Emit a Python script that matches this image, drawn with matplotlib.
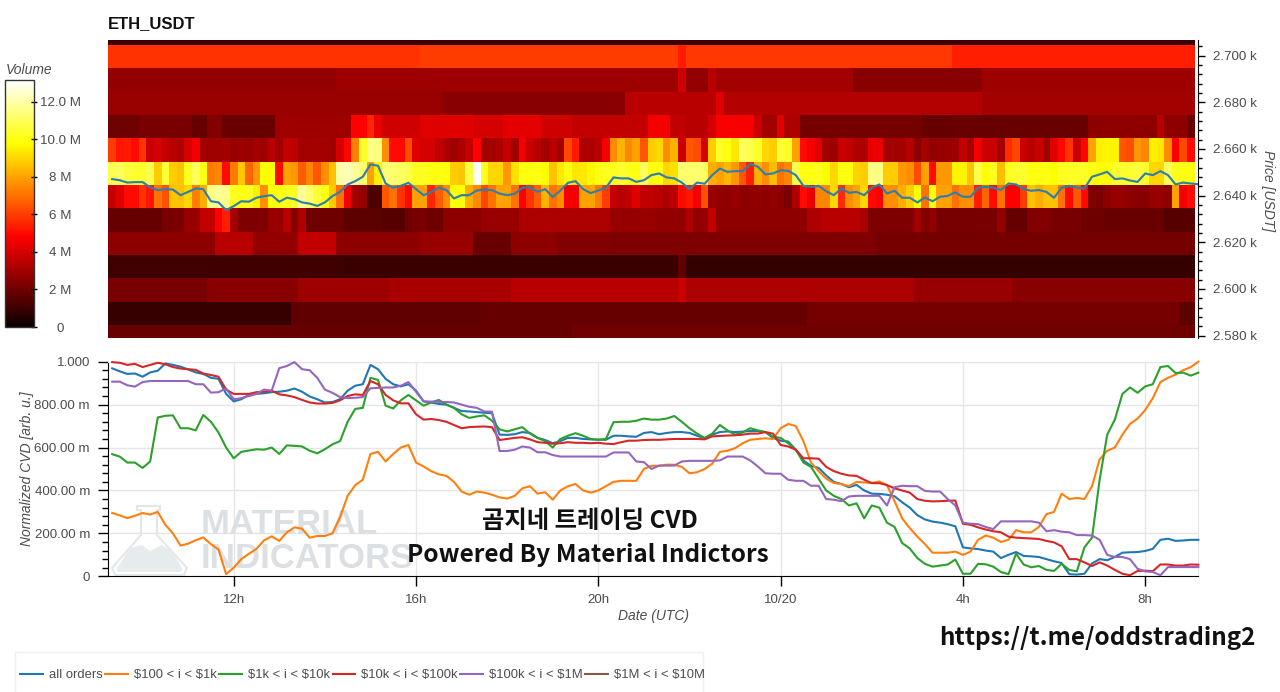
"""ETH_USDT volume heatmap and normalized CVD by order size."""
import matplotlib
matplotlib.use('Agg')
import matplotlib.dates as mdates
import matplotlib.pyplot as plt
import numpy as np
import pandas as pd
from matplotlib.lines import Line2D
from matplotlib.patches import Polygon, Rectangle
from matplotlib.ticker import FixedLocator, FuncFormatter
from matplotlib.transforms import Affine2D

# heatmap volume in millions, one list per 10 USDT price bin, 10 minute cells
vol_2704 = [1.0] * 143
vol_2694 = [5.8] * 41 + [6.0] * 34 + [5.3] + [5.9] * 35 + [5.4] * 32
vol_2684 = [2.7] * 30 + [2.9] * 45 + [3.9] + [2.7] * 3 + [3.4] + [3.0] * 18 + [2.5] * 17 + [2.9] * 28
vol_2674 = [2.8] * 44 + [2.5] * 24 + [3.4] * 12 + [4.2] + [3.3] * 34 + [3.0] * 28
vol_2664 = ([2.0] * 4 + [2.2] * 7 + [1.8] * 2 + [2.4] * 2 + [1.9] * 7 + [2.9] * 10 + [4.8] * 2 + [5.5, 4.4]
            + [3.9] * 5 + [4.2] * 7 + [4.0] * 4 + [4.3] * 5 + [3.9] * 4 + [3.6] * 6 + [3.6] * 4 + [4.6]
            + [4.6] * 2 + [3.6] * 2 + [3.4] * 3 + [4.0] + [4.7] * 5 + [3.8] + [3.0] * 2 + [4.2] + [3.2] * 2
            + [2.1] * 16 + [1.8] * 4 + [1.9] * 18 + [2.6] * 9 + [3.4] + [2.6] * 3 + [1.9])
vol_2654 = [6.0, 5.2, 5.3, 5.0, 5.8, 3.8, 4.0, 3.6, 3.4, 3.2, 4.0, 4.6, 3.0, 2.9, 2.9, 3.0, 2.8, 2.9,
            2.8, 3.0, 2.9, 3.4, 3.0, 3.6, 3.5, 3.0, 3.0, 3.0, 3.0, 2.9, 4.0, 4.9, 7.3, 10.3, 11.5, 11.5,
            7.6, 5.0, 5.0, 6.3, 4.2, 4.0, 4.0, 3.6, 3.2, 2.9, 3.2, 3.6, 4.8, 3.0, 3.0, 3.2, 3.6, 3.0,
            4.6, 3.8, 3.4, 3.0, 3.4, 3.0, 6.2, 5.3, 3.2, 3.2, 3.4, 4.6, 7.5, 8.3, 7.4, 8.0, 6.5, 8.8,
            9.0, 7.5, 8.3, 3.8, 6.5, 6.3, 4.0, 8.8, 10.3, 10.0, 9.3, 11.0, 10.8, 10.3, 9.0, 8.8, 10.5, 10.3,
            8.0, 5.0, 4.7, 4.2, 3.0, 2.9, 3.8, 3.6, 3.2, 3.2, 4.4, 4.4, 3.0, 3.0, 3.0, 3.4, 2.5, 3.0,
            2.7, 2.8, 2.8, 2.9, 3.6, 3.0, 4.6, 3.8, 3.8, 3.0, 5.6, 6.2, 3.8, 3.4, 3.8, 2.9, 4.2, 4.9,
            5.8, 3.8, 4.9, 8.0, 9.5, 9.6, 9.6, 6.5, 6.3, 7.8, 7.4, 9.5, 9.3, 7.5, 4.8, 6.2, 5.0]
vol_2644 = [10.8, 11.0, 10.6, 10.4, 10.4, 10.8, 8.8, 10.5, 8.8, 8.6, 10.2, 11.0, 10.0, 7.2, 7.4, 5.0, 7.2, 8.7,
            6.8, 7.8, 9.8, 9.8, 5.0, 8.0, 7.8, 6.6, 7.4, 6.5, 7.6, 8.6, 12.0, 12.2, 11.8, 11.2, 8.0, 9.5,
            11.3, 11.2, 11.0, 10.8, 10.2, 10.2, 10.0, 10.0, 9.9, 8.8, 8.7, 10.6, 13.0, 10.2, 9.0, 9.0, 7.8, 9.2,
            10.0, 10.0, 10.0, 9.8, 8.6, 9.4, 10.0, 9.3, 9.4, 9.7, 10.0, 10.2, 10.2, 10.4, 10.2, 10.0, 11.0, 10.0,
            10.0, 9.0, 9.2, 11.2, 11.2, 11.2, 11.0, 8.2, 8.0, 8.4, 7.8, 6.5, 5.4, 8.2, 7.6, 8.5, 7.0, 7.4,
            10.8, 10.0, 10.0, 10.2, 9.8, 9.0, 10.0, 10.0, 8.9, 8.8, 11.5, 11.5, 8.8, 8.8, 7.8, 7.6, 6.3, 8.0,
            5.0, 7.8, 7.8, 9.6, 9.6, 8.6, 10.8, 9.8, 10.2, 8.5, 10.2, 10.4, 10.4, 10.0, 10.0, 10.0, 9.8, 10.2,
            10.3, 10.3, 10.3, 10.0, 9.8, 9.8, 10.4, 10.4, 10.4, 10.6, 10.4, 9.0, 9.0, 11.0, 10.2, 10.0, 10.0]
vol_2634 = [3.6, 4.2, 5.0, 5.0, 5.8, 5.2, 7.0, 6.4, 8.6, 8.6, 9.0, 7.3, 8.2, 11.5, 11.8, 11.6, 10.2, 10.0,
            10.2, 9.5, 7.6, 9.9, 10.0, 10.1, 10.3, 11.8, 11.2, 10.5, 10.0, 8.8, 7.0, 4.6, 3.0, 2.7, 1.3, 1.3,
            6.5, 7.0, 5.8, 5.0, 8.0, 8.0, 5.5, 6.6, 7.5, 9.9, 9.9, 8.2, 7.5, 6.2, 7.0, 8.0, 8.0, 7.0,
            4.8, 5.8, 6.6, 8.3, 7.0, 7.5, 4.6, 4.6, 8.0, 8.0, 7.2, 6.0, 3.6, 3.4, 3.6, 4.2, 3.6, 3.5,
            3.4, 3.2, 3.4, 5.0, 5.2, 4.6, 6.4, 2.8, 2.7, 2.6, 2.8, 2.6, 2.6, 2.7, 2.6, 2.7, 2.6, 2.2,
            3.2, 5.0, 4.4, 7.4, 7.4, 9.0, 5.6, 7.6, 8.0, 9.0, 5.0, 4.8, 7.6, 7.6, 8.2, 8.8, 9.8, 7.0,
            10.0, 8.0, 8.0, 7.0, 7.6, 7.6, 5.4, 6.8, 5.0, 7.0, 4.8, 4.8, 6.0, 8.6, 8.2, 8.6, 8.6, 7.0,
            5.0, 6.5, 5.0, 2.4, 2.2, 2.6, 2.8, 2.8, 2.6, 2.5, 2.5, 2.8, 2.8, 2.6, 8.0, 4.6, 5.0]
vol_2624 = ([1.8] * 7 + [2.2] * 3 + [2.8] * 2 + [3.6] * 2 + [4.8, 5.4, 3.0] + [2.3] * 4 + [2.8] * 2 + [3.4, 2.4, 3.2]
            + [2.0] * 5 + [1.6] * 5 + [1.5] * 3 + [2.0] + [2.2] * 2 + [2.0] * 2 + [2.6] * 5 + [2.8] * 5 + [3.2] * 12
            + [2.8] * 6 + [2.7] * 4 + [3.2] + [2.7] * 2 + [3.6] + [2.6] * 12 + [3.2] * 2 + [3.4] * 5 + [3.1]
            + [2.3] * 6 + [3.0, 2.4, 2.7] + [2.2] * 8 + [2.8] + [1.8] * 3 + [2.4] * 3 + [2.2] * 4 + [2.0] * 3
            + [1.9] * 8 + [1.5] * 4)
vol_2614 = ([2.6] * 14 + [3.4] * 5 + [2.7] * 6 + [3.6] * 5 + [2.6] * 11 + [2.8] * 7 + [1.9] * 5 + [2.6] * 6
            + [2.4] * 7 + [2.3] * 35 + [2.1] * 42)
vol_2604 = [1.05] * 31 + [0.95] * 44 + [1.7] + [0.85] * 67
vol_2594 = ([2.2] * 13 + [2.5] * 12 + [2.9] * 12 + [3.1] * 16 + [3.4] * 22 + [3.8] + [3.2] * 30 + [2.8] * 13
            + [2.5] * 24)
vol_2584 = [0.9] * 24 + [1.7] * 25 + [1.8] * 43 + [2.1] * 49 + [1.6] * 2
vol_2574 = [1.8] * 61 + [2.0] * 82

price = [2647.1, 2646.6, 2645.6, 2645.8, 2645.8, 2643.6, 2642.4, 2642.8, 2642.6, 2640.2, 2641.6, 2643.1,
         2642.8, 2637.6, 2637.1, 2633.8, 2635.5, 2637.6, 2637.4, 2639.1, 2639.8, 2640.2, 2637.4, 2639.1,
         2638.5, 2637.1, 2636.6, 2635.6, 2637.1, 2639.8, 2641.6, 2644.8, 2646.2, 2648.1, 2653.4, 2652.8,
         2645.2, 2643.4, 2644.2, 2645.5, 2642.8, 2640.2, 2641.6, 2643.4, 2642.4, 2638.8, 2640.2, 2640.2,
         2642.2, 2642.6, 2642.4, 2640.9, 2640.2, 2640.8, 2643.4, 2643.6, 2641.6, 2642.8, 2639.4, 2642.2,
         2645.5, 2646.2, 2642.8, 2641.1, 2642.2, 2643.4, 2647.8, 2647.4, 2647.4, 2645.9, 2646.6, 2648.8,
         2649.5, 2647.8, 2647.4, 2645.6, 2642.8, 2645.6, 2645.1, 2648.8, 2651.6, 2650.2, 2650.5, 2650.5,
         2653.5, 2652.4, 2649.1, 2649.5, 2650.9, 2650.6, 2648.8, 2644.2, 2643.8, 2644.2, 2641.9, 2640.2,
         2643.1, 2641.2, 2641.6, 2640.2, 2643.4, 2644.8, 2640.9, 2642.1, 2639.1, 2639.1, 2637.1, 2639.2,
         2637.6, 2639.5, 2639.9, 2641.4, 2639.5, 2639.5, 2643.4, 2643.8, 2643.4, 2642.4, 2645.2, 2644.8,
         2642.8, 2642.1, 2642.4, 2641.6, 2639.1, 2643.4, 2644.2, 2643.4, 2643.1, 2648.1, 2649.1, 2650.2,
         2647.1, 2647.4, 2646.5, 2645.9, 2649.5, 2648.8, 2650.5, 2648.8, 2644.8, 2645.6, 2645.2, 2644.9]

# normalized CVD by order size
cvd_all = [.969, .955, .943, .945, .93, .95, .958, .992, .985, .977, .964, .95, .943, .925, .92, .85, .815, .825,
           .845, .85, .853, .858, .86, .865, .875, .86, .838, .825, .81, .812, .825, .865, .888, .895, .985, .965,
           .92, .895, .885, .895, .865, .815, .81, .803, .80, .785, .77, .768, .765, .762, .76, .66, .659, .662,
           .672, .668, .645, .635, .62, .63, .645, .645, .64, .638, .637, .636, .655, .655, .652, .65, .668, .672,
           .662, .668, .672, .672, .668, .655, .643, .66, .672, .675, .672, .674, .677, .677, .672, .645, .632, .628,
           .59, .54, .515, .505, .47, .44, .43, .415, .426, .40, .385, .384, .38, .373, .345, .32, .285, .265,
           .255, .25, .243, .233, .135, .13, .127, .12, .115, .085, .10, .113, .095, .093, .09, .08, .07, .062,
           .01, .008, .012, .06, .08, .075, .09, .11, .112, .113, .118, .128, .17, .175, .165, .167, .17, .17]
cvd_100_1k = [.295, .284, .271, .282, .295, .288, .30, .24, .20, .143, .152, .168, .181, .15, .125, .01, .04, .08,
              .105, .128, .168, .186, .165, .205, .228, .222, .18, .188, .188, .20, .275, .375, .425, .45, .57, .58,
              .535, .57, .60, .612, .53, .512, .49, .475, .468, .44, .395, .38, .395, .39, .38, .368, .362, .375,
              .41, .42, .385, .392, .357, .40, .42, .43, .40, .39, .40, .42, .44, .445, .445, .445, .50, .515,
              .515, .52, .52, .51, .48, .485, .50, .525, .58, .585, .597, .62, .636, .64, .643, .64, .69, .71,
              .70, .63, .53, .49, .455, .435, .43, .42, .44, .437, .435, .442, .425, .35, .27, .225, .185, .15,
              .11, .11, .11, .115, .10, .115, .17, .19, .18, .16, .17, .215, .205, .205, .23, .29, .30, .385,
              .36, .365, .36, .42, .545, .585, .60, .66, .71, .735, .775, .83, .905, .925, .94, .96, .975, 1.0]
cvd_1k_10k = [.569, .558, .53, .53, .505, .535, .74, .748, .75, .69, .69, .68, .752, .72, .67, .60, .55, .58,
              .586, .592, .59, .60, .57, .61, .608, .605, .585, .573, .592, .615, .63, .72, .78, .785, .925, .915,
              .795, .782, .82, .845, .82, .795, .81, .822, .80, .785, .755, .738, .745, .75, .725, .685, .675, .685,
              .695, .665, .645, .63, .60, .64, .655, .667, .655, .64, .636, .64, .718, .72, .72, .725, .735, .73,
              .73, .735, .747, .72, .69, .665, .645, .665, .705, .68, .66, .67, .69, .68, .672, .65, .645, .62,
              .59, .53, .51, .455, .40, .375, .36, .33, .34, .27, .33, .32, .25, .23, .155, .13, .085, .058,
              .045, .05, .055, .078, .012, .012, .058, .056, .045, .02, .01, .105, .055, .042, .048, .03, .025, .058,
              .03, .023, .135, .18, .45, .66, .73, .85, .88, .855, .885, .895, .975, .98, .947, .949, .935, .949]
cvd_10k_100k = [.998, .995, .985, .99, .975, .985, .995, .988, .975, .968, .965, .962, .945, .938, .93, .87, .85, .85,
                .85, .858, .86, .865, .848, .843, .835, .822, .81, .805, .805, .808, .82, .84, .848, .845, .91, .895,
                .845, .82, .806, .806, .755, .73, .733, .728, .72, .705, .69, .695, .697, .698, .695, .635, .64, .645,
                .648, .638, .625, .622, .618, .62, .625, .622, .622, .62, .622, .618, .616, .625, .632, .632, .635, .636,
                .636, .638, .64, .64, .64, .64, .638, .652, .654, .656, .657, .66, .665, .665, .672, .665, .612, .605,
                .59, .55, .55, .548, .51, .49, .478, .47, .468, .45, .434, .434, .425, .41, .40, .39, .36, .352,
                .349, .35, .352, .353, .245, .24, .228, .218, .21, .205, .185, .18, .178, .176, .174, .165, .158, .14,
                .08, .08, .065, .048, .065, .05, .03, .012, .005, .025, .026, .024, .055, .055, .05, .05, .055, .054]
cvd_100k_1m = [.907, .907, .89, .884, .905, .91, .91, .91, .91, .91, .91, .895, .895, .856, .858, .875, .825, .83,
               .84, .85, .87, .865, .97, .98, .998, .965, .96, .925, .87, .855, .835, .83, .832, .835, .876, .878,
               .88, .88, .888, .905, .86, .815, .814, .813, .812, .81, .80, .79, .785, .768, .767, .584, .584, .59,
               .605, .60, .578, .578, .565, .558, .558, .558, .558, .558, .558, .558, .577, .577, .577, .535, .532, .50,
               .516, .516, .516, .535, .538, .538, .538, .538, .54, .558, .558, .558, .54, .512, .48, .478, .478, .45,
               .445, .445, .422, .422, .36, .357, .35, .372, .375, .375, .375, .375, .33, .415, .422, .42, .42, .398,
               .395, .395, .36, .33, .25, .245, .243, .23, .22, .256, .256, .256, .256, .256, .25, .21, .215, .208,
               .205, .192, .192, .19, .17, .10, .09, .09, .08, .035, .023, .02, .005, .043, .043, .043, .043, .043]

legend_labels = ['all orders', '$100 < i < $1k', '$1k < i < $10k', '$10k < i < $100k',
                 '$100k < i < $1M', '$1M < i < $10M']
legend_colors = ['#1f77b4', '#ff7f0e', '#2ca02c', '#d62728', '#9467bd', '#8c564b']

volume_rows = [vol_2574, vol_2584, vol_2594, vol_2604, vol_2614, vol_2624, vol_2634,
               vol_2644, vol_2654, vol_2664, vol_2674, vol_2684, vol_2694, vol_2704]
price_edges = 2574.6 + 10 * np.arange(len(volume_rows) + 1)
cell_edges = mdates.date2num(pd.date_range('2024-10-19 09:15', periods=144, freq='10min'))
times = mdates.date2num(pd.date_range('2024-10-19 09:20', periods=144, freq='10min'))
x_range = mdates.date2num(pd.to_datetime(['2024-10-19 09:14:30', '2024-10-20 09:09:30']))
x_ticks = mdates.date2num(pd.to_datetime(['2024-10-19 12:00', '2024-10-19 16:00', '2024-10-19 20:00',
                                          '2024-10-20 00:00', '2024-10-20 04:00', '2024-10-20 08:00']))
x_labels = ['12h', '16h', '20h', '10/20', '4h', '8h']

W, H = 1280, 692
GRAY = '#4d4d4d'
plt.rcParams['font.family'] = ['Liberation Sans', 'DejaVu Sans']
plt.rcParams['mathtext.fontset'] = 'dejavusans'
plt.rcParams['text.parse_math'] = False

fig = plt.figure(figsize=(W / 100, H / 100), dpi=100)
px = Affine2D().scale(1, -1).translate(0, H)  # picture pixels, origin top left


def box(left, top, right, bottom):
    return [left / W, 1 - bottom / H, (right - left) / W, (bottom - top) / H]


def ftext(x, y, s, **kw):
    kw.setdefault('ha', 'center')
    kw.setdefault('va', 'center')
    return fig.text(x / W, 1 - y / H, s, **kw)


# --- heatmap ---
ax_heat = fig.add_axes(box(108, 40, 1198, 338))
mesh = ax_heat.pcolormesh(cell_edges, price_edges, np.array(volume_rows), cmap='hot',
                          vmin=0, vmax=13.15, shading='flat', linewidth=0, rasterized=True)
ax_heat.plot(times, price, color='#2f7fae', lw=1.55, solid_joinstyle='round')
ax_heat.set_xlim(x_range)
ax_heat.set_ylim(2579.0, 2706.7)
ax_heat.set_xticks([])
ax_heat.yaxis.tick_right()
ax_heat.yaxis.set_major_locator(FixedLocator(np.arange(2580, 2701, 20)))
ax_heat.yaxis.set_minor_locator(FixedLocator(np.arange(2580, 2705, 4)))
ax_heat.yaxis.set_major_formatter(FuncFormatter(lambda v, _: f'{v / 1000:.3f} k'))
ax_heat.tick_params(axis='y', which='major', length=5, width=1, direction='out', labelsize=9.6,
                    labelcolor=GRAY, pad=6)
ax_heat.tick_params(axis='y', which='minor', length=3, width=1, direction='out')
for side in ['left', 'top', 'bottom']:
    ax_heat.spines[side].set_visible(False)
ftext(1268, 191, 'Price [USDT]', rotation=-90, style='italic', color=GRAY, fontsize=10)
ftext(108, 24, 'ETH_USDT', ha='left', weight='bold', color='#111111', fontsize=12)

# --- colorbar ---
ax_bar = fig.add_axes(box(5, 80, 34, 327))
cbar = fig.colorbar(mesh, cax=ax_bar)
cbar.set_ticks([0, 2, 4, 6, 8, 10, 12], labels=['0', '2 M', '4 M', '6 M', '8 M', '10.0 M', '12.0 M'])
cbar.ax.tick_params(length=4, width=1, direction='inout', labelsize=9.6, labelcolor=GRAY, pad=17)
for label in cbar.ax.get_yticklabels():
    label.set_ha('center')
cbar.outline.set_edgecolor('#333333')
cbar.outline.set_linewidth(1)
ftext(6, 70, 'Volume', ha='left', style='italic', color=GRAY, fontsize=10)

# --- CVD ---
ax_cvd = fig.add_axes(box(108, 361.7, 1198, 576.3))
ax_cvd.set_axisbelow(True)
ax_cvd.grid(True, which='major', color='#e6e6e6', lw=1)

# watermark sits under the lines
flask = Polygon([(137, 506), (160, 506), (160, 510), (157, 510), (157, 535), (187, 568), (184, 575),
                 (115, 575), (112, 568), (141, 535), (141, 510), (137, 510)], closed=True,
                fc='white', ec='#e4e7e8', lw=1.5, transform=px, zorder=0.5, clip_on=False)
liquid = Polygon([(116, 570), (130, 548), (142, 545), (150, 551), (162, 545), (172, 551), (183, 570),
                  (180, 572), (119, 572)], closed=True, fc='#e6ecee', ec='none', transform=px,
                 zorder=0.6, clip_on=False)
ax_cvd.add_patch(flask)
ax_cvd.add_patch(liquid)
ax_cvd.text(201, 524, 'MATERIAL', transform=px, family=['Liberation Sans Narrow', 'Liberation Sans'], weight='bold',
            fontsize=25, color='#dce0e3', ha='left', va='center', zorder=0.7)
ax_cvd.text(201, 559, 'INDICATORS', transform=px, family=['Liberation Sans Narrow', 'Liberation Sans'], weight='bold',
            fontsize=25, color='#dce0e3', ha='left', va='center', zorder=0.7)

series = [cvd_all, cvd_100_1k, cvd_1k_10k, cvd_10k_100k, cvd_100k_1m]
for values, color in zip(series, legend_colors):
    ax_cvd.plot(times, values, color=color, lw=1.5, solid_joinstyle='round', clip_on=False, zorder=3)
ax_cvd.set_xlim(x_range)
ax_cvd.set_ylim(0, 1)
ax_cvd.set_xticks(x_ticks, labels=x_labels)
ax_cvd.yaxis.set_major_locator(FixedLocator(np.arange(0, 1.01, 0.2)))
ax_cvd.yaxis.set_minor_locator(FixedLocator(np.arange(0, 1.01, 0.04)))
ax_cvd.set_yticklabels(['0', '200.00 m', '400.00 m', '600.00 m', '800.00 m', '1.000'])
ax_cvd.tick_params(axis='both', which='major', length=7, width=1, labelsize=9.6, labelcolor=GRAY, pad=6)
ax_cvd.tick_params(axis='y', which='minor', length=4, width=1)
ax_cvd.spines['top'].set_color('#e6e6e6')
ax_cvd.spines['right'].set_color('#e6e6e6')
ftext(27, 469, 'Normalized CVD [arb. u.]', rotation=90, style='italic', color=GRAY, fontsize=10)
ftext(654, 616, 'Date (UTC)', style='italic', color=GRAY, fontsize=10)

# --- overlaid captions ---
cjk = ['Noto Sans CJK KR', 'DejaVu Sans']
ftext(590, 521, '곰지네 트레이딩 CVD', family=cjk, weight='bold', color='#111111', fontsize=17.5, zorder=5)
ftext(588, 555, 'Powered By Material Indictors', family=cjk, weight='bold', color='#111111', fontsize=17.5, zorder=5)
ftext(1097, 638, 'https://t.me/oddstrading2', family=cjk, weight='bold', color='#111111', fontsize=17.5)

# --- legend ---
fig.add_artist(Rectangle((15, 652), 688, 50, transform=px, fc='white', ec='#efefef', lw=1))
handles = [Line2D([], [], color=c, lw=1.5) for c in legend_colors]
fig.legend(handles, legend_labels, ncol=6, frameon=False, loc='center left',
           bbox_to_anchor=(20 / W, 1 - 675 / H), fontsize=9.4, labelcolor=GRAY, handlelength=1.75,
           handletextpad=0.45, columnspacing=0.2, borderpad=0, borderaxespad=0)

fig.savefig('out.png', dpi=100)
